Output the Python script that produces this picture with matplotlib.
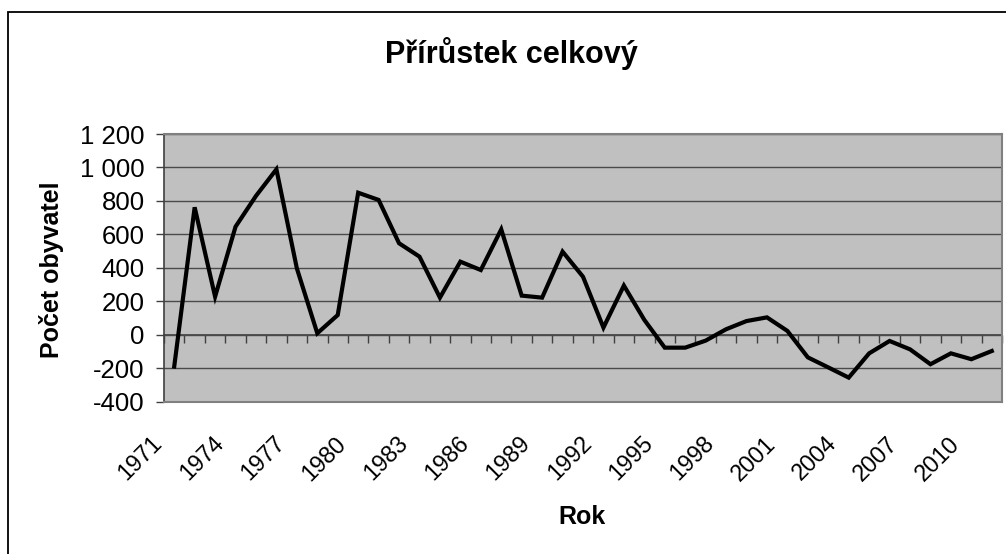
import numpy as np
import matplotlib
matplotlib.use("Agg")
import matplotlib.pyplot as plt
import matplotlib.patches as mpatches
import matplotlib.transforms as mtransforms
from matplotlib.ticker import FuncFormatter

plt.rcParams['font.family'] = ['Liberation Sans', 'DejaVu Sans']

years = list(range(1971, 2012))
values = [-190, 762, 228, 646, 830, 989, 397, 9, 118, 849, 806, 547, 467, 222,
          437, 387, 630, 234, 222, 497, 347, 43, 294, 89, -77, -77, -35, 33,
          82, 104, 23, -135, -195, -256, -111, -37, -87, -176, -111, -146, -97]
yticks = [-400, -200, 0, 200, 400, 600, 800, 1000, 1200]
label_step = 3
title = "Přírůstek celkový"
xlabel = "Rok"
ylabel = "Počet obyvatel"

W, H = 1006, 554
fig = plt.figure(figsize=(W / 100, H / 100), dpi=100)
fig.patch.set_facecolor('white')

# outer chart border (right and bottom edges fall outside the image)
fig.patches.append(mpatches.Rectangle((8 / W, -0.05), 1.1, 1 - 12 / H + 0.05,
                                      transform=fig.transFigure, fill=False,
                                      edgecolor='black', linewidth=1.3, clip_on=False))

left, right, top, bottom = 164, 1002, 134, 401.7
ax = fig.add_axes([left / W, 1 - bottom / H, (right - left) / W, (bottom - top) / H])
ax.set_facecolor('#C0C0C0')

x = np.arange(len(years))
ax.plot(x, values, color='black', linewidth=3, solid_joinstyle='miter', zorder=5)

ax.set_xlim(-0.5, len(years) - 0.5)
ax.set_ylim(yticks[0], yticks[-1])
ax.set_yticks(yticks)
ax.yaxis.set_major_formatter(FuncFormatter(lambda v, p: f"{int(v):,}".replace(",", " ")))
ax.tick_params(axis='y', direction='out', length=5.8, width=1, color='#404040',
               labelsize=18.5, pad=8, labelcolor='black')
ax.grid(axis='y', color='#4a4a4a', linewidth=1)
ax.set_axisbelow(True)

ax.set_xticks([])
for s in ['top', 'right', 'bottom']:
    ax.spines[s].set_color('#808080')
    ax.spines[s].set_linewidth(1.5)
ax.spines['left'].set_color('#404040')
ax.spines['left'].set_linewidth(1.2)

# category axis crossing at zero, tick marks between categories
ymin, ymax = yticks[0], yticks[-1]
sec = ax.secondary_xaxis((0 - ymin) / (ymax - ymin))
sec.set_xticks(np.arange(len(years) + 1) - 0.5)
sec.tick_params(axis='x', direction='out', length=5.8, width=1, color='#404040',
                labelbottom=False, labeltop=False)
sec.spines['bottom'].set_color('#404040')
sec.spines['bottom'].set_linewidth(1.2)

# rotated category labels below the plot area
offset = mtransforms.ScaledTranslation(-11 / 100, -43 / 100, fig.dpi_scale_trans)
trans = mtransforms.blended_transform_factory(ax.transData, ax.transAxes) + offset
for i in range(0, len(years), label_step):
    ax.text(x[i], 0, str(years[i]), transform=trans, rotation=45,
            rotation_mode='anchor', ha='right', va='baseline', fontsize=16.8,
            clip_on=False)

fig.text(511 / W, 1 - 62.7 / H, title, ha='center', va='baseline',
         fontsize=22, fontweight='bold')
fig.text(582 / W, 1 - 524 / H, xlabel, ha='center', va='baseline',
         fontsize=18, fontweight='bold')
fig.text(52 / W, 1 - 270 / H, ylabel, ha='center', va='center', rotation=90,
         fontsize=18, fontweight='bold')

fig.savefig('out.png', dpi=100, facecolor='white')
